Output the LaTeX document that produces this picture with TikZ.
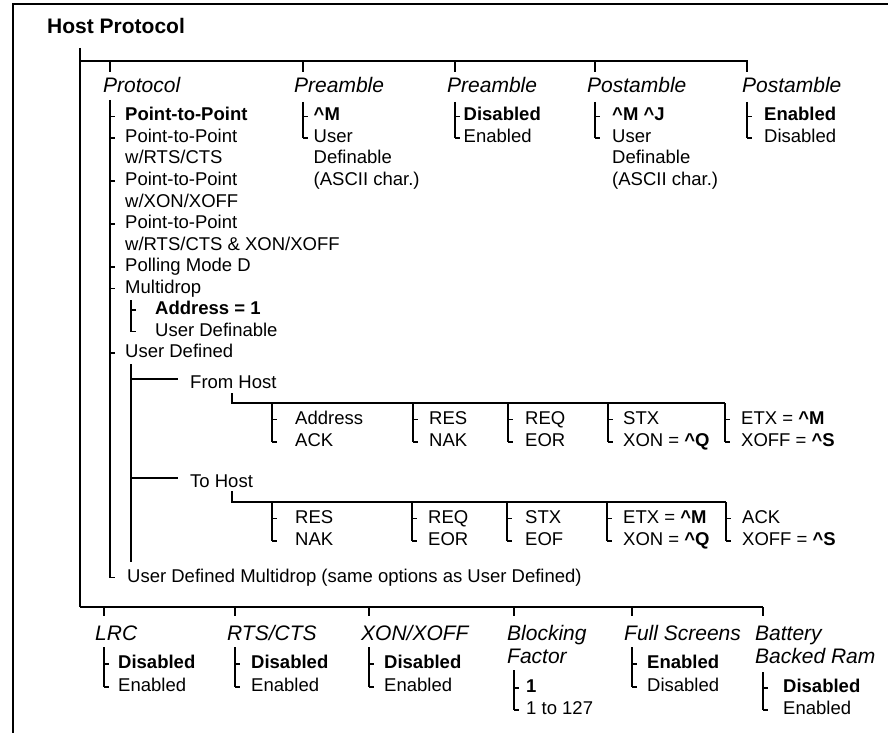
\documentclass[tikz,border=0pt]{standalone}
\usepackage{fontspec}
\setmainfont{Liberation Sans}
\newcommand\fitem{\fontsize{18.5bp}{21.5bp}\selectfont}
\newcommand\fhead{\fontsize{21bp}{24bp}\selectfont\itshape}
\newcommand\ftitle{\fontsize{21bp}{24bp}\selectfont\bfseries}
\newcommand\ca{\textasciicircum}
% option item: name, x of vertical, x of text, baseline, style, text
\newcommand\optitem[6]{%
  \node[#5] (#1) at (#3,#4) {#6};
  \draw[tree] (#2,#4-4.5) -- (#2+5,#4-4.5);}
% continuation line: name, x, baseline, text
\newcommand\contline[4]{\node[item] (#1) at (#2,#3) {#4};}
\begin{document}
\begin{tikzpicture}[x=1bp,y=-1bp,
  tree/.style={line width=1.2bp},
  item/.style={anchor=base west, inner sep=0pt, font=\fitem},
  itemb/.style={item, font=\fitem\bfseries},
  head/.style={anchor=base west, inner sep=0pt, font=\fhead}]
\useasboundingbox (0,0) rectangle (888,733);
% frame
\draw[tree] (13,733) -- (13,4) -- (888,4);
\node[anchor=base west, inner sep=0pt, font=\ftitle] (title) at (47,34) {Host Protocol};
% trunk
\coordinate (trunkTop) at (80,48);
\coordinate (trunkBot) at (80,607);
\draw[tree] (trunkTop) -- (trunkBot);
\draw[tree] (80,61) -- (748,61);
\foreach \x in {110,303,455,595,747} \draw[tree] (\x,61) -- (\x,72);
% top headers
\node[head] (hprot) at (103,93) {Protocol};
\node[head] (hpre1) at (294,93) {Preamble};
\node[head] (hpre2) at (447,93) {Preamble};
\node[head] (hpost1) at (587,93) {Postamble};
\node[head] (hpost2) at (742,93) {Postamble};
% Protocol list
\draw[tree] (110,100) -- (110,577.5);
\optitem{pa}{110}{125}{121}{itemb}{Point-to-Point}
\optitem{pb}{110}{125}{142.5}{item}{Point-to-Point}
\contline{pb2}{125}{164}{w/RTS/CTS}
\optitem{pc}{110}{125}{185.5}{item}{Point-to-Point}
\contline{pc2}{125}{207}{w/XON/XOFF}
\optitem{pd}{110}{125}{228.5}{item}{Point-to-Point}
\contline{pd2}{125}{250}{w/RTS/CTS \& XON/XOFF}
\optitem{pe}{110}{125}{271.5}{item}{Polling Mode D}
\optitem{pf}{110}{125}{293}{item}{Multidrop}
\optitem{pg}{110}{125}{357.5}{item}{User Defined}
\optitem{ph}{110}{127}{582}{item}{User Defined Multidrop (same options as User Defined)}
% Multidrop sub list
\draw[tree] (131,300) -- (131,331.5);
\optitem{ma}{131}{155}{314.5}{itemb}{Address = 1}
\optitem{mb}{131}{155}{336}{item}{User Definable}
% User Defined branch
\draw[tree] (131,364) -- (131,562);
\draw[tree] (131,379) -- (178,379);
\node[item] (fh) at (190,388.5) {From Host};
\draw[tree] (232,393) |- (725,403);
\foreach \x in {272,413,508,608,725} \draw[tree] (\x,403) -- (\x,442);
\optitem{fa1}{272}{295}{424}{item}{Address}
\optitem{fa2}{272}{295}{446.5}{item}{ACK}
\optitem{fb1}{413}{429}{424}{item}{RES}
\optitem{fb2}{413}{429}{446.5}{item}{NAK}
\optitem{fc1}{508}{525}{424}{item}{REQ}
\optitem{fc2}{508}{525}{446.5}{item}{EOR}
\optitem{fd1}{608}{623}{424}{item}{STX}
\optitem{fd2}{608}{623}{446.5}{item}{XON = \textbf{\ca Q}}
\optitem{fe1}{725}{741}{424}{item}{ETX = \textbf{\ca M}}
\optitem{fe2}{725}{741}{446.5}{item}{XOFF = \textbf{\ca S}}
\draw[tree] (131,478) -- (178,478);
\node[item] (th) at (190,487) {To Host};
\draw[tree] (232,491) |- (726,502);
\foreach \x in {272,412,507,607,726} \draw[tree] (\x,502) -- (\x,541);
\optitem{ta1}{272}{295}{523}{item}{RES}
\optitem{ta2}{272}{295}{545.5}{item}{NAK}
\optitem{tb1}{412}{428}{523}{item}{REQ}
\optitem{tb2}{412}{428}{545.5}{item}{EOR}
\optitem{tc1}{507}{525}{523}{item}{STX}
\optitem{tc2}{507}{525}{545.5}{item}{EOF}
\optitem{td1}{607}{623}{523}{item}{ETX = \textbf{\ca M}}
\optitem{td2}{607}{623}{545.5}{item}{XON = \textbf{\ca Q}}
\optitem{te1}{726}{742}{523}{item}{ACK}
\optitem{te2}{726}{742}{545.5}{item}{XOFF = \textbf{\ca S}}
% Preamble / Postamble lists
\draw[tree] (303,102) -- (303,138);
\optitem{ra1}{303}{313.5}{121}{itemb}{\ca M}
\optitem{ra2}{303}{313.5}{142.5}{item}{User}
\contline{ra3}{313.5}{164}{Definable}
\contline{ra4}{313.5}{185.5}{(ASCII char.)}
\draw[tree] (455,102) -- (455,138);
\optitem{rb1}{455}{463.5}{121}{itemb}{Disabled}
\optitem{rb2}{455}{463.5}{142.5}{item}{Enabled}
\draw[tree] (595,102) -- (595,138);
\optitem{sa1}{595}{612}{121}{itemb}{\ca M \ca J}
\optitem{sa2}{595}{612}{142.5}{item}{User}
\contline{sa3}{612}{164}{Definable}
\contline{sa4}{612}{185.5}{(ASCII char.)}
\draw[tree] (747,102) -- (747,138);
\optitem{sb1}{747}{764}{121}{itemb}{Enabled}
\optitem{sb2}{747}{764}{142.5}{item}{Disabled}
% bottom branch
\draw[tree] (80,607) -- (763,607);
\foreach \x in {104,235,369,514,632,763} \draw[tree] (\x,607) -- (\x,616);
\node[head] (hlrc) at (95,640.5) {LRC};
\node[head] (hrts) at (227,640.5) {RTS/CTS};
\node[head] (hxon) at (361,640.5) {XON/XOFF};
\node[head] (hblk) at (507,640.5) {Blocking};
\node[head] (hblk2) at (507,663) {Factor};
\node[head] (hfs) at (624,640.5) {Full Screens};
\node[head] (hbat) at (755,640.5) {Battery};
\node[head] (hbat2) at (755,663) {Backed Ram};
\draw[tree] (104,647) -- (104,687);
\optitem{la1}{104}{118}{668.5}{itemb}{Disabled}
\optitem{la2}{104}{118}{691.5}{item}{Enabled}
\draw[tree] (235,647) -- (235,687);
\optitem{lb1}{235}{251}{668.5}{itemb}{Disabled}
\optitem{lb2}{235}{251}{691.5}{item}{Enabled}
\draw[tree] (369,647) -- (369,687);
\optitem{lc1}{369}{384}{668.5}{itemb}{Disabled}
\optitem{lc2}{369}{384}{691.5}{item}{Enabled}
\draw[tree] (514,670) -- (514,710);
\optitem{ld1}{514}{526}{692.5}{itemb}{1}
\optitem{ld2}{514}{526}{714.5}{item}{1 to 127}
\draw[tree] (632,647) -- (632,687);
\optitem{le1}{632}{647}{668.5}{itemb}{Enabled}
\optitem{le2}{632}{647}{691.5}{item}{Disabled}
\draw[tree] (763,672) -- (763,710);
\optitem{lf1}{763}{783}{692.5}{itemb}{Disabled}
\optitem{lf2}{763}{783}{714.5}{item}{Enabled}
\end{tikzpicture}
\end{document}
